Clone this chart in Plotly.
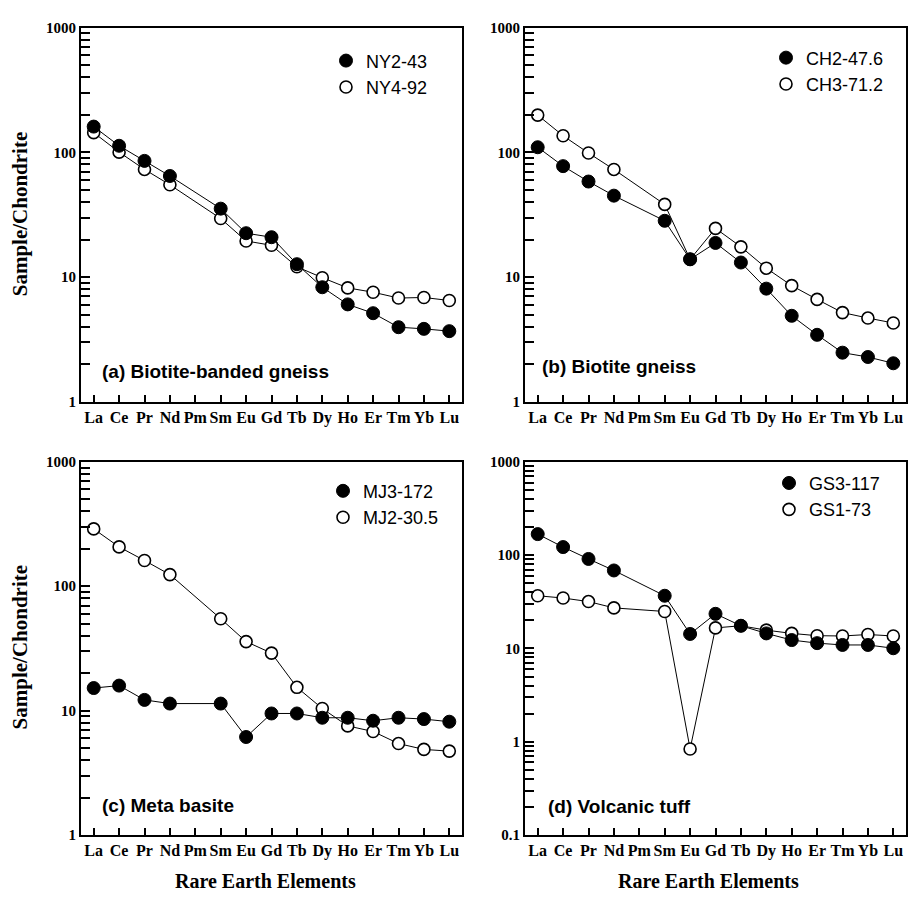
import plotly.graph_objects as go
from plotly.subplots import make_subplots

elements = ["La", "Ce", "Pr", "Nd", "Pm", "Sm", "Eu", "Gd", "Tb", "Dy", "Ho", "Er", "Tm", "Yb", "Lu"]

# (a) Biotite-banded gneiss
ny2_43 = [161, 113, 85.5, 64.7, None, 35.4, 22.5, 20.9, 12.7, 8.3, 6.05, 5.14, 3.97, 3.85, 3.69]
ny4_92 = [144, 100.5, 73, 55, None, 29.5, 19.5, 18.0, 12.1, 9.9, 8.2, 7.57, 6.8, 6.87, 6.5]
# (b) Biotite gneiss
ch2_476 = [110, 77.6, 58.4, 45, None, 28.3, 13.9, 18.8, 13.1, 8.09, 4.9, 3.45, 2.48, 2.29, 2.04]
ch3_712 = [199, 136, 98.8, 73, None, 38.3, 13.9, 24.6, 17.5, 11.8, 8.55, 6.63, 5.2, 4.7, 4.29]
# (c) Meta basite
mj3_172 = [15.2, 15.9, 12.2, 11.4, None, 11.4, 6.14, 9.49, 9.49, 8.77, 8.77, 8.3, 8.77, 8.56, 8.15]
mj2_305 = [289, 207, 161, 124, None, 54.8, 35.9, 29.0, 15.4, 10.4, 7.54, 6.8, 5.44, 4.88, 4.73]
# (d) Volcanic tuff
gs3_117 = [168, 122, 91, 68.5, None, 36.7, 14.3, 23.5, 17.5, 14.5, 12.3, 11.4, 10.9, 10.9, 10.05]
gs1_73 = [36.7, 34.7, 31.8, 27.2, None, 24.9, 0.837, 16.6, 17.5, 15.7, 14.5, 13.7, 13.6, 14.1, 13.6]

panels = [
    ("(a) Biotite-banded gneiss", "NY2-43", ny2_43, "NY4-92", ny4_92),
    ("(b) Biotite gneiss", "CH2-47.6", ch2_476, "CH3-71.2", ch3_712),
    ("(c) Meta basite", "MJ3-172", mj3_172, "MJ2-30.5", mj2_305),
    ("(d) Volcanic tuff", "GS3-117", gs3_117, "GS1-73", gs1_73),
]

W, H = 911, 903
SERIF = "Liberation Serif"
SANS = "Liberation Sans"
TICKC = "black"

boxes = [(81, 462, 20, 401), (525, 906, 20, 401), (81, 462, 462, 842), (525, 906, 462, 842)]
yranges = [(0, 3), (0, 3), (0, 3), (-1, 3)]
label_pos = [(100, 370), (540, 365), (100, 812), (546, 813)]
legend_pos = [(326, 35), (766, 32), (323, 473), (769, 465)]

xi = list(range(len(elements)))

fig = make_subplots(rows=2, cols=2)
fig.update_layout(width=W, height=H, margin=dict(l=0, r=0, t=0, b=0),
                  paper_bgcolor="white", plot_bgcolor="white", showlegend=True)
annotations = []

for k, (label, n1, v1, n2, v2) in enumerate(panels):
    r, c = k // 2 + 1, k % 2 + 1
    lg = "legend" if k == 0 else "legend" + str(k + 1)
    x0, x1, yt, yb = boxes[k]
    for vals in (v2, v1):
        fig.add_trace(go.Scatter(x=xi, y=vals, mode="lines", connectgaps=True,
                                 line=dict(color="black", width=1), showlegend=False,
                                 hoverinfo="skip"), row=r, col=c)
    fig.add_trace(go.Scatter(x=xi, y=v2, mode="markers", name=n2, legend=lg, legendrank=2,
                             marker=dict(symbol="circle", size=12, color="white",
                                         line=dict(color="black", width=1.6))), row=r, col=c)
    fig.add_trace(go.Scatter(x=xi, y=v1, mode="markers", name=n1, legend=lg, legendrank=1,
                             marker=dict(symbol="circle", size=13, color="black",
                                         line=dict(color="black", width=1))), row=r, col=c)

    lo, hi = yranges[k]
    all_vals, all_text = [], []
    for e in range(lo, hi + 1):
        for m in range(1, 10):
            if e == hi and m > 1:
                break
            all_vals.append(m * 10.0 ** e)
            all_text.append(("<b>" + ("0.1" if e < 0 else str(10 ** e)) + "</b>") if m == 1 else "")

    fig.update_xaxes(
        domain=[x0 / W, x1 / W], range=[-0.5, 14.5],
        tickmode="array", tickvals=xi, ticktext=["<b>" + s + "</b>" for s in elements], tickangle=0,
        ticks="inside", ticklen=7, tickwidth=1.5, tickcolor=TICKC,
        showline=True, linecolor="black", linewidth=2, mirror=True,
        showgrid=False, zeroline=False,
        tickfont=dict(family=SERIF, size=16, color="black"),
        row=r, col=c,
    )
    fig.update_yaxes(
        domain=[1 - yb / H, 1 - yt / H], type="log", range=[lo, hi],
        tickmode="array", tickvals=all_vals, ticktext=all_text, ticksuffix="      ",
        ticks="inside", ticklen=9, tickwidth=2, tickcolor=TICKC,
        showline=True, linecolor="black", linewidth=2, mirror=True,
        showgrid=False, zeroline=False,
        tickfont=dict(family=SERIF, size=15, color="black"),
        row=r, col=c,
    )
    lx, ly = legend_pos[k]
    fig.update_layout({lg: dict(
        x=lx / W, y=1 - ly / H, xanchor="left", yanchor="top", xref="paper", yref="paper",
        bgcolor="rgba(0,0,0,0)", borderwidth=0, itemwidth=30, tracegroupgap=0,
        font=dict(family=SANS, size=18, color="black"),
    )})
    px, py = label_pos[k]
    annotations.append(dict(
        text="<b>" + label + "</b>", x=px / W, y=1 - py / H, xref="paper", yref="paper",
        xanchor="left", yanchor="middle", showarrow=False,
        font=dict(family=SANS, size=19, color="black"),
    ))

for cy in (210, 651):
    annotations.append(dict(text="<b>Sample/Chondrite</b>", x=20 / W, y=1 - cy / H, xref="paper", yref="paper",
                            textangle=-90, showarrow=False, xanchor="center", yanchor="middle",
                            font=dict(family=SERIF, size=21, color="black")))
for cx in (265, 708):
    annotations.append(dict(text="<b>Rare Earth Elements</b>", x=cx / W, y=1 - 889 / H, xref="paper", yref="paper",
                            showarrow=False, xanchor="center", yanchor="middle",
                            font=dict(family=SERIF, size=20, color="black")))

fig.update_layout(annotations=annotations)
fig.write_html("out.html")
